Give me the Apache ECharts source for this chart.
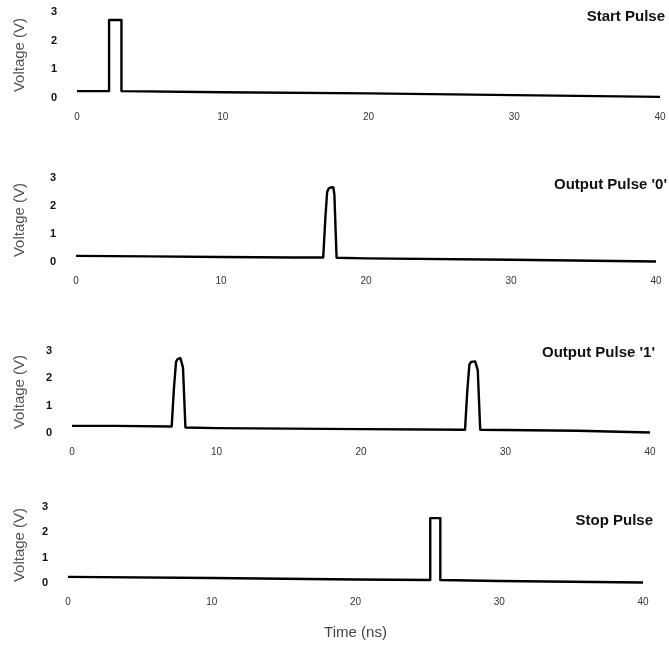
<!DOCTYPE html>
<html>
<head>
<meta charset="utf-8">
<title>Pulses</title>
<script src="https://cdn.jsdelivr.net/npm/echarts@6/dist/echarts.min.js"></script>
<style>
  html, body { margin: 0; padding: 0; background: #fff; }
  #chart { width: 669px; height: 647px; }
</style>
</head>
<body>
<div id="chart"></div>
<script>
// 各面板标题
const panelTitles = ['Start Pulse', "Output Pulse '0'", "Output Pulse '1'", 'Stop Pulse']
const xTicks = [0, 10, 20, 30, 40]
const yTicks = [0, 1, 2, 3]

// Start Pulse
const startTime = [0, 2.2, 2.2, 3.05, 3.05, 10, 20, 30, 40]
const startVolt = [0.24, 0.24, 2.72, 2.72, 0.24, 0.2, 0.16, 0.1, 0.04]

// Output Pulse '0'
const out0Time = [0, 5, 10, 15, 17.05, 17.2, 17.32, 17.42, 17.6, 17.75, 17.82, 17.97, 20, 30, 40]
const out0Volt = [0.22, 0.2, 0.18, 0.16, 0.16, 1.6, 2.5, 2.62, 2.67, 2.66, 2.4, 0.15, 0.13, 0.08, 0.02]

// Output Pulse '1'
const out1Time = [0, 3, 6.9, 7.05, 7.2, 7.3, 7.5, 7.62, 7.68, 7.85, 10, 20,
  27.2, 27.35, 27.5, 27.62, 27.9, 28.02, 28.08, 28.25, 35, 40]
const out1Volt = [0.26, 0.26, 0.24, 1.6, 2.6, 2.7, 2.74, 2.7, 2.4, 0.2, 0.18, 0.14,
  0.12, 1.5, 2.5, 2.6, 2.62, 2.58, 2.3, 0.12, 0.08, 0.02]

// Stop Pulse
const stopTime = [0, 10, 20, 25.2, 25.2, 25.9, 25.9, 30, 40]
const stopVolt = [0.24, 0.2, 0.14, 0.12, 2.56, 2.56, 0.12, 0.08, 0.02]

const seriesTimes = [startTime, out0Time, out1Time, stopTime]
const seriesVolts = [startVolt, out0Volt, out1Volt, stopVolt]

// 每个面板的网格位置（扫描图略有偏移）
const grids = [
  { left: 77, right: 9, top: 12, height: 86 },
  { left: 76, right: 13, top: 178, height: 84 },
  { left: 72, right: 19, top: 351, height: 82 },
  { left: 68, right: 26, top: 507, height: 76 },
]
const titlePos = [
  { right: 4, top: 9 },
  { right: 2, top: 177 },
  { right: 14, top: 345 },
  { right: 16, top: 513 },
]

const FONT = '"Liberation Sans", Arial, sans-serif'

const option = {
  animation: false,
  backgroundColor: '#fff',
  title: panelTitles.map((t, i) => ({
    text: t,
    right: titlePos[i].right,
    top: titlePos[i].top,
    padding: 0,
    textStyle: { fontFamily: FONT, fontSize: 15, fontWeight: 'bold', color: '#111' },
  })),
  grid: grids,
  xAxis: grids.map((g, i) => ({
    type: 'value',
    gridIndex: i,
    min: xTicks[0],
    max: xTicks[xTicks.length - 1],
    interval: 10,
    axisLine: { show: false },
    axisTick: { show: false },
    splitLine: { show: false },
    axisLabel: { fontFamily: FONT, fontSize: 10, color: '#333', margin: 14 },
    name: i === 3 ? 'Time (ns)' : '',
    nameLocation: 'middle',
    nameGap: 42,
    nameTextStyle: { fontFamily: FONT, fontSize: 15, color: '#444' },
  })),
  yAxis: grids.map((g, i) => ({
    type: 'value',
    gridIndex: i,
    min: yTicks[0],
    max: yTicks[yTicks.length - 1],
    interval: 1,
    axisLine: { show: false },
    axisTick: { show: false },
    splitLine: { show: false },
    axisLabel: { fontFamily: FONT, fontSize: 11, fontWeight: 'bold', color: '#111', margin: 20 },
    name: 'Voltage (V)',
    nameLocation: 'middle',
    nameGap: g.left - 27,
    nameTextStyle: { fontFamily: FONT, fontSize: 15, color: '#555' },
  })),
  series: seriesTimes.map((ts, i) => ({
    type: 'line',
    xAxisIndex: i,
    yAxisIndex: i,
    showSymbol: false,
    data: ts.map((t, k) => [t, seriesVolts[i][k]]),
    lineStyle: { color: '#000', width: 2.4, join: 'round' },
  })),
}

const myChart = echarts.init(document.getElementById('chart'))
myChart.setOption(option)
</script>
</body>
</html>
